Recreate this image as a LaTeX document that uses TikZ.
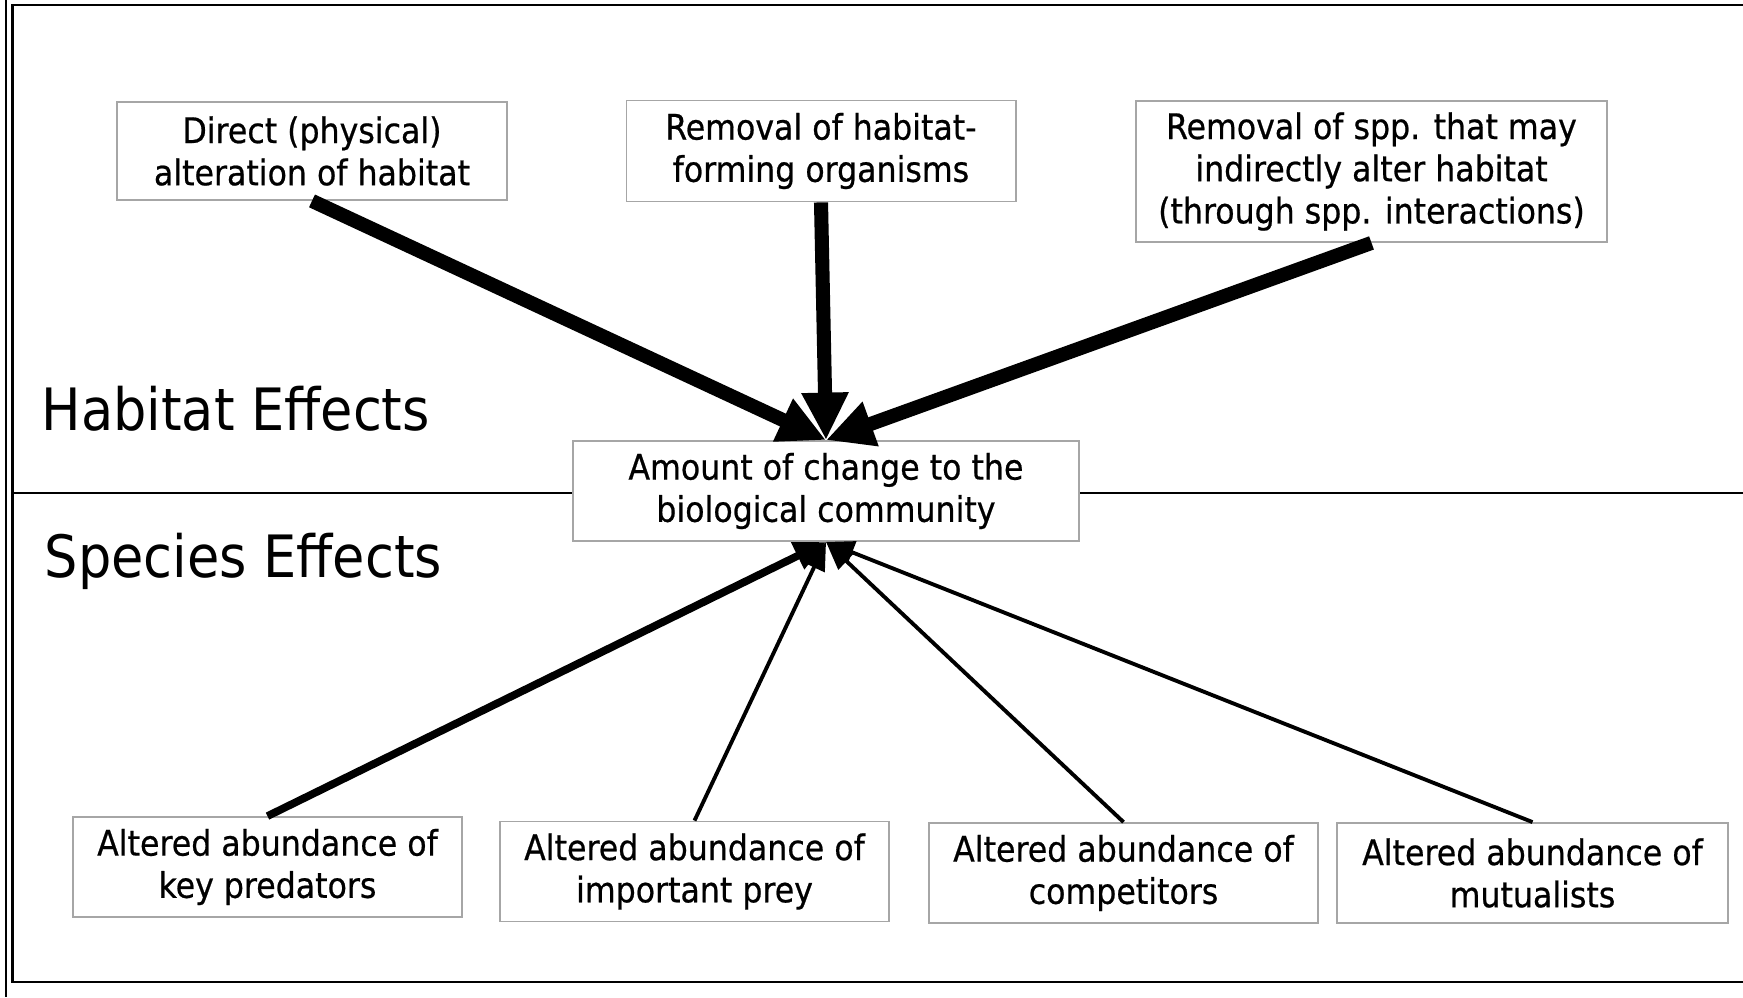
\documentclass[tikz,border=0pt]{standalone}
\usepackage{fontspec}
\setmainfont{DejaVu Sans Condensed}
\newfontfamily\boxfont[FakeBold=0.6]{DejaVu Sans Condensed}
\usepackage{tikz}
\usetikzlibrary{positioning,arrows.meta}
\tikzstyle{cause} = [rectangle, draw=black!35, line width=0.5pt, fill=white,
    align=center, inner sep=0pt, font=\boxfont\fontsize{10}{12}\selectfont]
\tikzstyle{heading} = [anchor=base west, inner sep=0pt, font=\fontsize{16.6}{20}\selectfont]
\tikzstyle{frame} = [line width=0.6pt]
\tikzstyle{habitatarrow} = [line width=4pt, -{Triangle[length=13.5pt,width=12.5pt]}]
\tikzstyle{speciesarrow} = [line width=2.2pt, -{Triangle[length=9pt,width=8pt]}]
\tikzstyle{minorarrow} = [line width=1.1pt, -{Triangle[length=8pt,width=6.5pt]}]

\begin{document}
\begin{tikzpicture}[x=0.01cm, y=-0.01cm]
                      \useasboundingbox (0,0) rectangle (1743,997);

                      % Frame
                      \coordinate (otl) at (6,0);
                      \coordinate (obl) at (6,997);
                      \coordinate (itl) at (12.5,5);
                      \coordinate (itr) at (1743,5);
                      \coordinate (ibl) at (12.5,982);
                      \coordinate (ibr) at (1743,982);
                      \coordinate (ml) at (12.5,493);
                      \coordinate (mr) at (1743,493);
                      \draw [frame] (otl) -- (obl);
                      \draw [frame] (itr) -- (itl) -- (ibl) -- (ibr);
                      \draw [frame] (ml) -- (mr);

                      % Nodes
                      \node [cause, minimum width=3.9cm, minimum height=0.98cm] (direct) at (312,151)
                        {Direct (physical)\\alteration of habitat};
                      \node [cause, minimum width=3.89cm, minimum height=1.01cm] (forming) at (821,151)
                        {Removal of habitat-\\forming organisms};
                      \node [cause, minimum width=4.71cm, minimum height=1.41cm] (indirect) at (1371.5,171.5)
                        {Removal of spp. that may\\indirectly alter habitat\\(through spp. interactions)};

                      \node [cause, minimum width=5.05cm, minimum height=1cm] (change) at (826,491)
                        {Amount of change to the\\biological community};

                      \node [cause, minimum width=3.89cm, minimum height=1cm] (predators) at (267.5,867)
                        {Altered abundance of\\key predators};
                      \node [cause, minimum width=3.89cm, minimum height=1cm] (prey) at (694.5,871.5)
                        {Altered abundance of\\important prey};
                      \node [cause, minimum width=3.89cm, minimum height=1cm] (competitors) at (1123.5,873)
                        {Altered abundance of\\competitors};
                      \node [cause, minimum width=3.91cm, minimum height=1cm] (mutualists) at (1532.5,873)
                        {Altered abundance of\\mutualists};

                      \node [heading] (habitat) at (41,430) {Habitat Effects};
                      \node [heading] (species) at (44,577) {Species Effects};

                      % Connections
                      \draw [habitatarrow] (direct.south) -- (change.north);
                      \draw [habitatarrow] (forming.south) -- (change.north);
                      \draw [habitatarrow] (indirect.south) -- (change.north);

                      \draw [speciesarrow] (predators.north) -- (change.south);
                      \draw [minorarrow] (prey.north) -- (change.south);
                      \draw [minorarrow] (competitors.north) -- (change.south);
                      \draw [minorarrow] (mutualists.north) -- (change.south);

                  \end{tikzpicture}
\end{document}
